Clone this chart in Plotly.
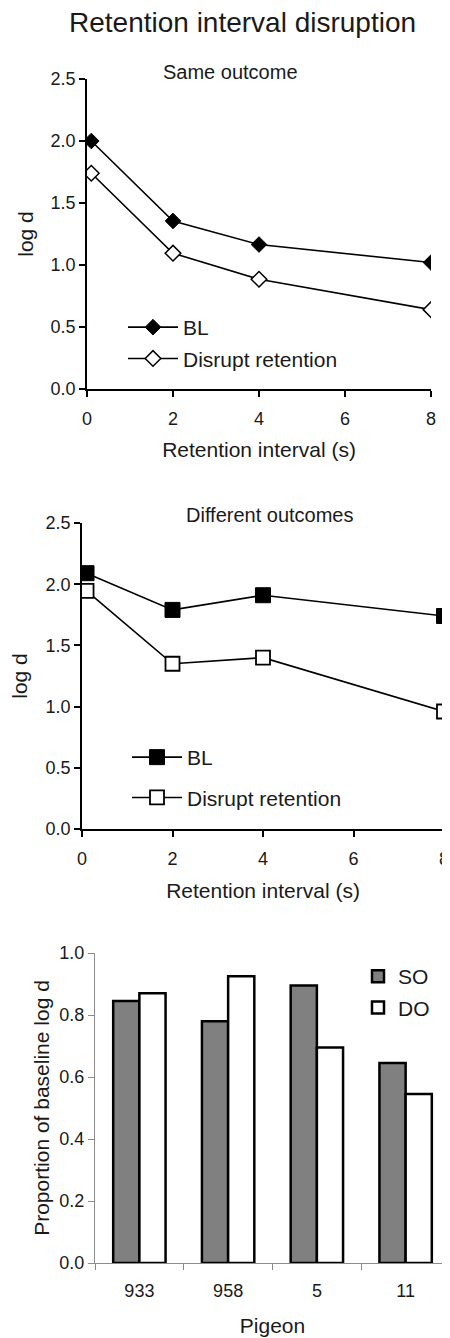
import plotly.graph_objects as go

# ---- data ----
retention_s = [0.1, 2, 4, 8]
so_bl = [2.00, 1.355, 1.165, 1.02]
so_disrupt = [1.74, 1.095, 0.885, 0.64]
do_bl = [2.09, 1.79, 1.91, 1.74]
do_disrupt = [1.945, 1.35, 1.40, 0.96]

pigeons = ["933", "958", "5", "11"]
prop_so = [0.845, 0.78, 0.895, 0.645]
prop_do = [0.87, 0.925, 0.695, 0.545]

# page body adds an 8px margin; work in screen pixels and convert
OFF = 8
W, H = 450 - OFF, 1338 - OFF
FONT = "Liberation Sans, Arial, sans-serif"
TXT = "#1a1a1a"


def px_x(p):
    return (p - OFF) / W


def px_y(p):
    return 1 - (p - OFF) / H


fig = go.Figure()

line_style = dict(color="black", width=1.6)

# top panel
fig.add_trace(go.Scatter(x=retention_s, y=so_bl, mode="lines+markers", name="BL",
                         line=line_style, legendgroup="a",
                         marker=dict(symbol="diamond", size=12, color="black",
                                     line=dict(color="black", width=1)),
                         xaxis="x", yaxis="y", legend="legend"))
fig.add_trace(go.Scatter(x=retention_s, y=so_disrupt, mode="lines+markers", name="Disrupt retention",
                         line=line_style, legendgroup="b",
                         marker=dict(symbol="diamond", size=12, color="white",
                                     line=dict(color="black", width=1.5)),
                         xaxis="x", yaxis="y", legend="legend"))

# middle panel
fig.add_trace(go.Scatter(x=retention_s, y=do_bl, mode="lines+markers", name="BL",
                         line=line_style, legendgroup="c",
                         marker=dict(symbol="square", size=15, color="black",
                                     line=dict(color="black", width=1)),
                         xaxis="x2", yaxis="y2", legend="legend2"))
fig.add_trace(go.Scatter(x=retention_s, y=do_disrupt, mode="lines+markers", name="Disrupt retention",
                         line=line_style, legendgroup="d",
                         marker=dict(symbol="square", size=14, color="white",
                                     line=dict(color="black", width=1.8)),
                         xaxis="x2", yaxis="y2", legend="legend2"))

# bottom panel
fig.add_trace(go.Bar(x=pigeons, y=prop_so, name="SO", legendgroup="e",
                     marker=dict(color="#808080", line=dict(color="black", width=2.5)),
                     xaxis="x3", yaxis="y3", legend="legend3"))
fig.add_trace(go.Bar(x=pigeons, y=prop_do, name="DO", legendgroup="f",
                     marker=dict(color="white", line=dict(color="black", width=2.5)),
                     xaxis="x3", yaxis="y3", legend="legend3"))

axis_common = dict(showgrid=False, zeroline=False, showline=True, linecolor="black", linewidth=1.6,
                   ticks="outside", ticklen=6, tickwidth=1.6, tickcolor="black",
                   tickfont=dict(size=18, color=TXT, family=FONT), automargin=False)

title_font = dict(size=21, color=TXT, family=FONT)
legend_font = dict(size=21, family=FONT, color=TXT)

fig.update_layout(
    width=W, height=H,
    margin=dict(l=0, r=0, t=0, b=0),
    paper_bgcolor="white", plot_bgcolor="white",
    font=dict(family=FONT, color=TXT),
    barmode="group", bargap=0.41, bargroupgap=0,
    xaxis=dict(axis_common, domain=[px_x(87), px_x(431)], range=[0, 8], tickvals=[0, 2, 4, 6, 8],
               ticklabelstandoff=7,
               anchor="y", title=dict(text="Retention interval (s)", font=title_font, standoff=14)),
    yaxis=dict(axis_common, domain=[px_y(389), px_y(79)], range=[0, 2.5], tickvals=[0, 0.5, 1, 1.5, 2, 2.5],
               tickformat=".1f", anchor="x", title=dict(text="log d", font=title_font, standoff=11)),
    xaxis2=dict(axis_common, domain=[px_x(82), px_x(444)], range=[0, 8], tickvals=[0, 2, 4, 6, 8],
                ticklabelstandoff=7,
                anchor="y2", title=dict(text="Retention interval (s)", font=title_font, standoff=15)),
    yaxis2=dict(axis_common, domain=[px_y(829), px_y(523)], range=[0, 2.5], tickvals=[0, 0.5, 1, 1.5, 2, 2.5],
                tickformat=".1f", anchor="x2", title=dict(text="log d", font=title_font, standoff=12)),
    xaxis3=dict(axis_common, domain=[px_x(95), 1], type="category", tickson="boundaries",
                linecolor="#8c8c8c", linewidth=1.2, tickcolor="#8c8c8c", tickwidth=1.2,
                ticklabelstandoff=11,
                anchor="y3", title=dict(text="Pigeon", font=title_font, standoff=18)),
    yaxis3=dict(axis_common, domain=[px_y(1263), px_y(953)], range=[0, 1], tickvals=[0, 0.2, 0.4, 0.6, 0.8, 1.0],
                linecolor="#8c8c8c", linewidth=1.2, tickcolor="#8c8c8c", tickwidth=1.2,
                tickformat=".1f", anchor="x3", title=dict(text="Proportion of baseline log d", font=title_font, standoff=3)),
    legend=dict(x=px_x(123), y=px_y(307), xanchor="left", yanchor="top", itemwidth=50,
                traceorder="grouped", tracegroupgap=1,
                font=legend_font, bgcolor="rgba(0,0,0,0)"),
    legend2=dict(x=px_x(127), y=px_y(737), xanchor="left", yanchor="top", itemwidth=50,
                 traceorder="grouped", tracegroupgap=10,
                 font=legend_font, bgcolor="rgba(0,0,0,0)"),
    legend3=dict(x=px_x(358), y=px_y(956), xanchor="left", yanchor="top", itemwidth=30,
                 traceorder="grouped", tracegroupgap=1,
                 font=legend_font, bgcolor="rgba(0,0,0,0)"),
    annotations=[
        dict(text="Retention interval disruption", x=px_x(242), y=px_y(23), xref="paper", yref="paper",
             xanchor="center", yanchor="middle",
             showarrow=False, font=dict(size=28, family=FONT, color=TXT)),
        dict(text="Same outcome", x=px_x(230), y=px_y(72), xref="paper", yref="paper",
             xanchor="center", yanchor="middle",
             showarrow=False, font=dict(size=20, family=FONT, color=TXT)),
        dict(text="Different outcomes", x=px_x(270), y=px_y(515), xref="paper", yref="paper",
             xanchor="center", yanchor="middle",
             showarrow=False, font=dict(size=20, family=FONT, color=TXT)),
    ],
)

fig.write_html("out.html")
